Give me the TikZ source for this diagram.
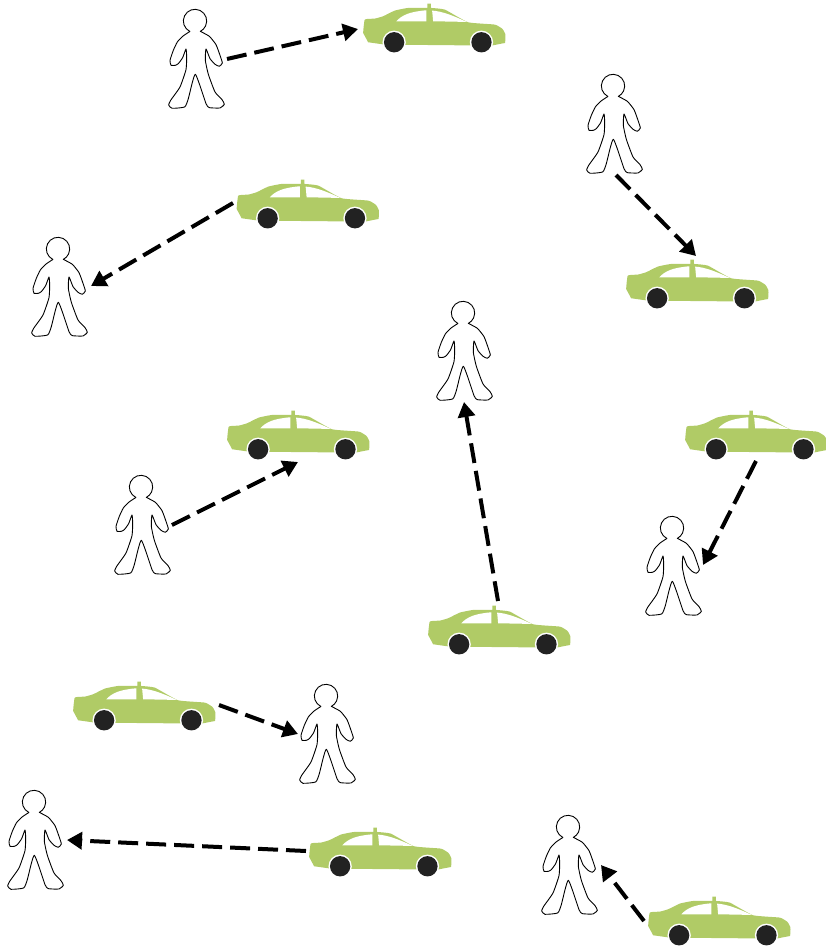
\documentclass[tikz,border=0pt]{standalone}
\usetikzlibrary{arrows.meta,calc}
\definecolor{carbody}{HTML}{B0CB66}
\definecolor{wheel}{HTML}{222222}
\tikzset{
  conn/.style={line width=4pt,dash pattern=on 20pt off 8pt,-{Triangle[length=15pt,width=17pt]},black},
  outline/.style={draw=black,line width=0.9pt,fill=white,line join=round},
  person/.pic={
    \begin{scope}[shift={(-37,-56.7)},scale=1/3]
    \path[outline] (89.7,93.5) arc[start angle=116,end angle=423,radius=35]
      -- plot[smooth,tension=0.3] coordinates{(120.9,93.2)
      (148,108)(168,133)(180,165)(187,188)(178,198)(165,192)(150,175)(138,146)
      (136,180)(145,222)(165,275)(186,298)(193,312)(180,323)(148,322)(138,310)(106,222)
      (85,295)(74,320)(36,324)(26,314)(32,300)(60,260)(78,208)(80,170)(78,146)
      (68,172)(55,190)(46,195)(33,195)(30,180)(40,150)(52,125)(68,108)(89.7,93.5)} -- cycle;
    \end{scope}
  },
  car/.pic={
    \begin{scope}[shift={(-82.7,-42.4)},scale=1/3]
    \fill[carbody] plot[smooth,tension=0.25] coordinates{(25,100)(30,60)(60,57)(85,50)(120,33)(160,25)(218,25)}
      -- (218,12) -- (228,12) -- (228,25)
      -- plot[smooth,tension=0.25] coordinates{(228,25)(270,30)(340,68)(420,75)(443,88)(452,105)(451,130)}
      -- (410,138) -- (90,135) -- (40,128) -- cycle;
    \fill[white] (125,65) .. controls (140,47) and (165,36) .. (215,32) -- (215,65) -- cycle;
    \fill[white] (235,65) -- (232,33) .. controls (262,35) and (295,48) .. (336,67) -- cycle;
    \fill[white] (118,128) circle (35) (380,128) circle (35);
    \fill[wheel] (118,128) circle (30.5) (380,128) circle (30.5);
    \end{scope}
  }
}
\newcommand{\putperson}[3]{\node[inner sep=0pt,minimum size=0pt] (#1) at (#2,#3) {}; \pic at (#1) {person};}
\newcommand{\putcar}[3]{\node[inner sep=0pt,minimum size=0pt] (#1) at (#2,#3) {}; \pic at (#1) {car};}
\begin{document}
\begin{tikzpicture}[x=1pt,y=-1pt]
\useasboundingbox (0,0) rectangle (825,947);
\putperson{p1}{197}{57}
\putperson{p2}{60}{285}
\putperson{p3}{615}{122}
\putperson{p4}{465}{349}
\putperson{p5}{143}{523}
\putperson{p6}{674}{564}
\putperson{p7}{328}{732}
\putperson{p8}{36}{838}
\putperson{p9}{570}{863}
\putcar{c1}{437.5}{42}
\putcar{c2}{311}{218}
\putcar{c3}{700.5}{298}
\putcar{c4}{301.5}{449}
\putcar{c5}{759.5}{449}
\putcar{c6}{502.5}{644}
\putcar{c7}{147.5}{720}
\putcar{c8}{383.5}{866}
\putcar{c9}{722.5}{935}
\draw[conn] ($(p1)+(30,2)$) -- ($(c1)+(-79.5,-13)$);
\draw[conn] ($(c2)+(-78,-15)$) -- ($(p2)+(31,1)$);
\draw[conn] ($(p3)+(1,53)$) -- ($(c3)+(-4.5,-42)$);
\draw[conn] ($(c6)+(-4.5,-43)$) -- ($(p4)+(-1,53)$);
\draw[conn] ($(p5)+(29,2)$) -- ($(c4)+(-3.5,13)$);
\draw[conn] ($(c5)+(-3.5,12)$) -- ($(p6)+(29,1)$);
\draw[conn] ($(c7)+(71.5,-15)$) -- ($(p7)+(-30,2)$);
\draw[conn] ($(c8)+(-77.5,-15)$) -- ($(p8)+(31,2)$);
\draw[conn] ($(c9)+(-78.5,-14)$) -- ($(p9)+(31,2)$);
\end{tikzpicture}
\end{document}
